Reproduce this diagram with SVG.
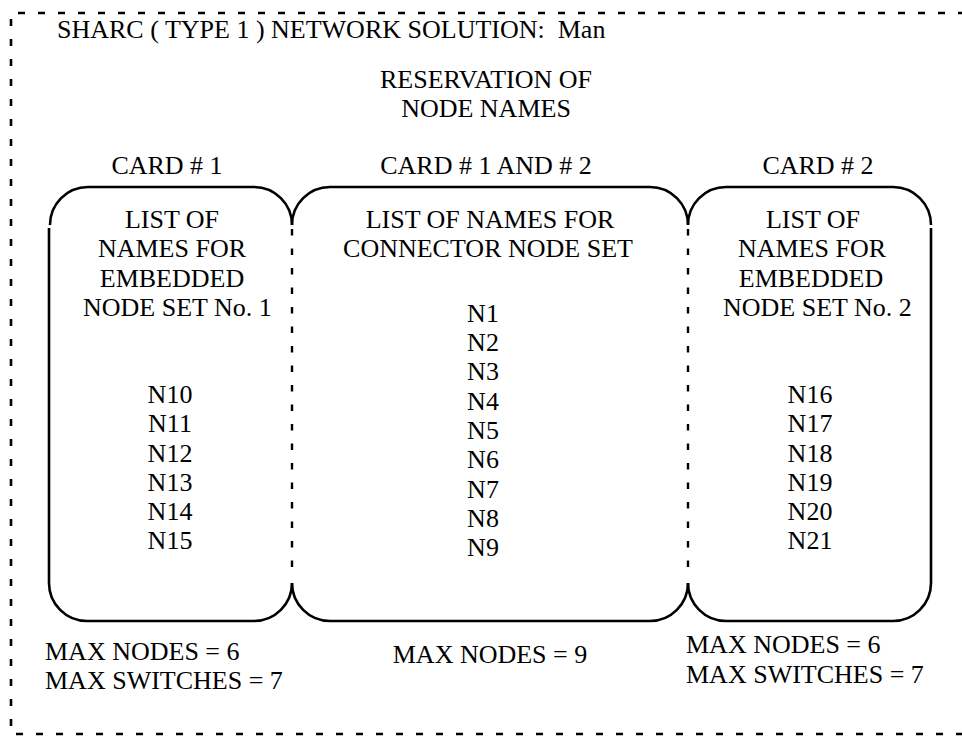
<svg xmlns="http://www.w3.org/2000/svg" width="962" height="736" viewBox="0 0 962 736">
  <style>
    text { font-family: "Liberation Serif", "Times New Roman", serif; font-size: 26px; fill: #000; }
    .c { text-anchor: middle; }
    .card { fill: none; stroke: #000; stroke-width: 2.6; stroke-linecap: butt; }
    .sep { fill: none; stroke: #000; stroke-width: 2.4; stroke-dasharray: 6.5 13; }
    .frame { fill: none; stroke: #000; stroke-width: 2.6; stroke-dasharray: 7 13; }
  </style>
  <rect width="962" height="736" fill="#fff"/>

  <!-- outer dashed frame (open on the right) -->
  <path class="frame" d="M965 13 H11 V734 H965"/>

  <!-- headings -->
  <g id="title">
    <text x="57" y="38" xml:space="preserve">SHARC ( TYPE 1 ) NETWORK SOLUTION:  Man</text>
  </g>
  <g id="heading">
    <text class="c" x="486" y="88">RESERVATION OF</text>
    <text class="c" x="486" y="117">NODE NAMES</text>
  </g>
  <g id="card-labels">
    <text class="c" x="167" y="174">CARD # 1</text>
    <text class="c" x="486" y="174">CARD # 1 AND # 2</text>
    <text class="c" x="818" y="174">CARD # 2</text>
  </g>

  <!-- card 1: embedded node set No. 1 -->
  <g id="card1">
    <path class="card" d="M292 225 A38 38 0 0 0 254 187 H88 A38 38 0 0 0 50 225 M49 228 V583 A38 38 0 0 0 87 621 H254 A38 38 0 0 0 292 583"/>
    <text class="c" x="172" y="228">LIST OF</text>
    <text class="c" x="172" y="257">NAMES FOR</text>
    <text class="c" x="172" y="287">EMBEDDED</text>
    <text x="83" y="316">NODE SET No. 1</text>
    <text class="c" x="170" y="403">N10</text>
    <text class="c" x="170" y="432">N11</text>
    <text class="c" x="170" y="462">N12</text>
    <text class="c" x="170" y="491">N13</text>
    <text class="c" x="170" y="520">N14</text>
    <text class="c" x="170" y="549">N15</text>
  </g>

  <!-- shared connector node set -->
  <g id="connector-set">
    <path class="card" d="M292 225 A38 38 0 0 1 330 187 H650 A38 38 0 0 1 688 225 M688 583 A38 38 0 0 1 650 621 H330 A38 38 0 0 1 292 583"/>
    <text class="c" x="490" y="228">LIST OF NAMES FOR</text>
    <text class="c" x="488" y="257">CONNECTOR NODE SET</text>
    <text class="c" x="483" y="322">N1</text>
    <text class="c" x="483" y="351">N2</text>
    <text class="c" x="483" y="380">N3</text>
    <text class="c" x="483" y="410">N4</text>
    <text class="c" x="483" y="439">N5</text>
    <text class="c" x="483" y="468">N6</text>
    <text class="c" x="483" y="498">N7</text>
    <text class="c" x="483" y="527">N8</text>
    <text class="c" x="483" y="556">N9</text>
  </g>

  <!-- card 2: embedded node set No. 2 -->
  <g id="card2">
    <path class="card" d="M688 225 A38 38 0 0 1 726 187 H893 A38 38 0 0 1 931 225 M931 228 V583 A38 38 0 0 1 893 621 H726 A38 38 0 0 1 688 583"/>
    <text class="c" x="813" y="228">LIST OF</text>
    <text class="c" x="812" y="257">NAMES FOR</text>
    <text class="c" x="811" y="287">EMBEDDED</text>
    <text x="723" y="316">NODE SET No. 2</text>
    <text class="c" x="810" y="403">N16</text>
    <text class="c" x="810" y="432">N17</text>
    <text class="c" x="810" y="462">N18</text>
    <text class="c" x="810" y="491">N19</text>
    <text class="c" x="810" y="520">N20</text>
    <text class="c" x="810" y="549">N21</text>
  </g>

  <!-- dashed boundaries between the sets -->
  <g id="connectors">
    <path class="sep" d="M292 229 V580"/>
    <path class="sep" d="M688 229 V580"/>
  </g>

  <!-- limits -->
  <g id="limits1">
    <text x="45" y="660">MAX NODES = 6</text>
    <text x="45" y="689">MAX SWITCHES = 7</text>
  </g>
  <g id="limits-shared">
    <text class="c" x="490" y="663">MAX NODES = 9</text>
  </g>
  <g id="limits2">
    <text x="686" y="653">MAX NODES = 6</text>
    <text x="686" y="683">MAX SWITCHES = 7</text>
  </g>
</svg>
